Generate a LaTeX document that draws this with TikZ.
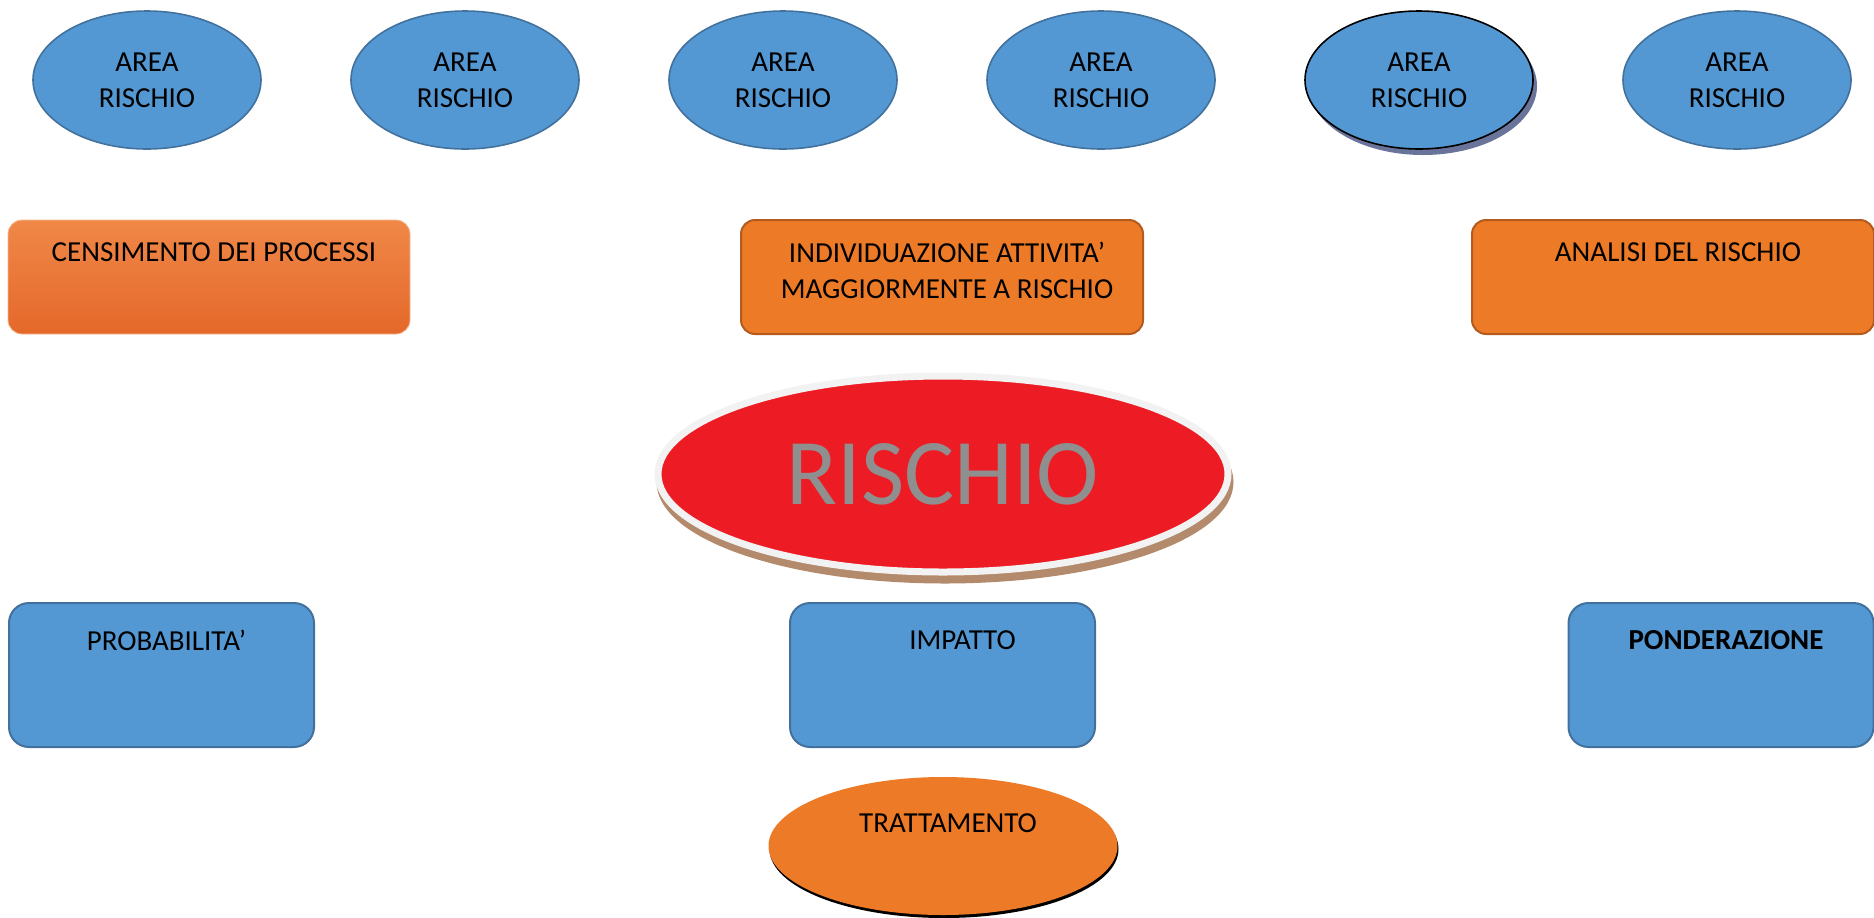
\documentclass[tikz,border=0pt]{standalone}
\usepackage{fontspec}
\setmainfont{Carlito}
\usepackage{xcolor}
\usepackage{tikz}
\usetikzlibrary{shapes}
\usetikzlibrary{shapes.geometric}

\definecolor{areablue}{HTML}{5498D3}
\definecolor{areaedge}{HTML}{41719C}
\definecolor{boxorange}{HTML}{EC7A26}
\definecolor{boxedge}{HTML}{B35A1E}
\definecolor{gradtop}{HTML}{F08848}
\definecolor{gradmid}{HTML}{F47B20}
\definecolor{gradbot}{HTML}{E4682A}
\definecolor{risckred}{HTML}{ED1C24}
\definecolor{riscring}{HTML}{F2F2F2}
\definecolor{riscshadow}{HTML}{B38A6B}
\definecolor{riscgray}{HTML}{8F8F8F}
\definecolor{slateshadow}{HTML}{6A739A}

\begin{document}
\begin{tikzpicture}[
	x=0.5pt, y=0.5pt,
	font=\fontsize{14.5}{18}\selectfont
]
\tikzset{
    myellipse/.style = {ellipse, draw=areaedge, line width=0.8pt, fill=areablue, align=center, inner sep=0pt, minimum width=114pt, minimum height=69pt},
    myrect/.style = {rectangle, rounded corners=7pt, minimum width=201pt, minimum height=57pt},
    myblue/.style = {rectangle, rounded corners=10pt, draw=areaedge, line width=1pt, fill=areablue, minimum width=152.5pt, minimum height=72pt},
    mytext/.style = {anchor=north, inner sep=0pt, align=center, xshift=2.5pt}
}
\useasboundingbox (0,0) rectangle (1874,-917);
% aree di rischio
\foreach \i/\x in {1/147,2/465,3/783,4/1101,6/1737}
  \node[myellipse] (area\i) at (\x,-80) {AREA\\RISCHIO};
\node[myellipse, draw=black, preaction={fill=slateshadow, transform canvas={shift={(2pt,-3pt)}}}] (area5) at (1419,-80) {AREA\\RISCHIO};
% fasi
\node[myrect, draw=gradtop!60!white, line width=0.4pt, top color=gradtop, middle color=gradmid, bottom color=gradbot] (censimento) at (209,-277)
  [label={[mytext, yshift=-11.5pt]north:CENSIMENTO DEI PROCESSI}] {};
\node[myrect, fill=boxorange, draw=boxedge, line width=1pt] (individuazione) at (942,-277)
  [label={[mytext, yshift=-11.5pt]north:INDIVIDUAZIONE ATTIVITA’\\MAGGIORMENTE A RISCHIO}] {};
\node[myrect, fill=boxorange, draw=boxedge, line width=1pt] (analisi) at (1673,-277)
  [label={[mytext, yshift=-11.5pt]north:ANALISI DEL RISCHIO}] {};
% rischio
\node[ellipse, draw=riscring, line width=3.5pt, fill=risckred, minimum width=285pt, minimum height=98pt, inner sep=0pt, text=riscgray, font=\fontsize{47}{50}\selectfont,
  preaction={draw=riscshadow, fill=riscshadow, line width=3.5pt, transform canvas={shift={(1pt,-4pt)}}}] (rischio) at (943,-474) {RISCHIO};
% misure
\node[myblue] (probabilita) at (161.5,-675)
  [label={[mytext, yshift=-14pt]north:PROBABILITA’}] {};
\node[myblue] (impatto) at (942.5,-675)
  [label={[mytext, yshift=-14pt, xshift=7.5pt]north:IMPATTO}] {};
\node[myblue] (ponderazione) at (1721,-675)
  [label={[mytext, yshift=-14pt]north:\textbf{PONDERAZIONE}}] {};
\node[ellipse, fill=boxorange, minimum width=174.5pt, minimum height=69pt, inner sep=0pt,
  preaction={fill=black, transform canvas={shift={(0.5pt,-1.5pt)}}}] (trattamento) at (943,-846)
  [label={[mytext, yshift=-18.5pt]north:TRATTAMENTO}] {};
\end{tikzpicture}
\end{document}
